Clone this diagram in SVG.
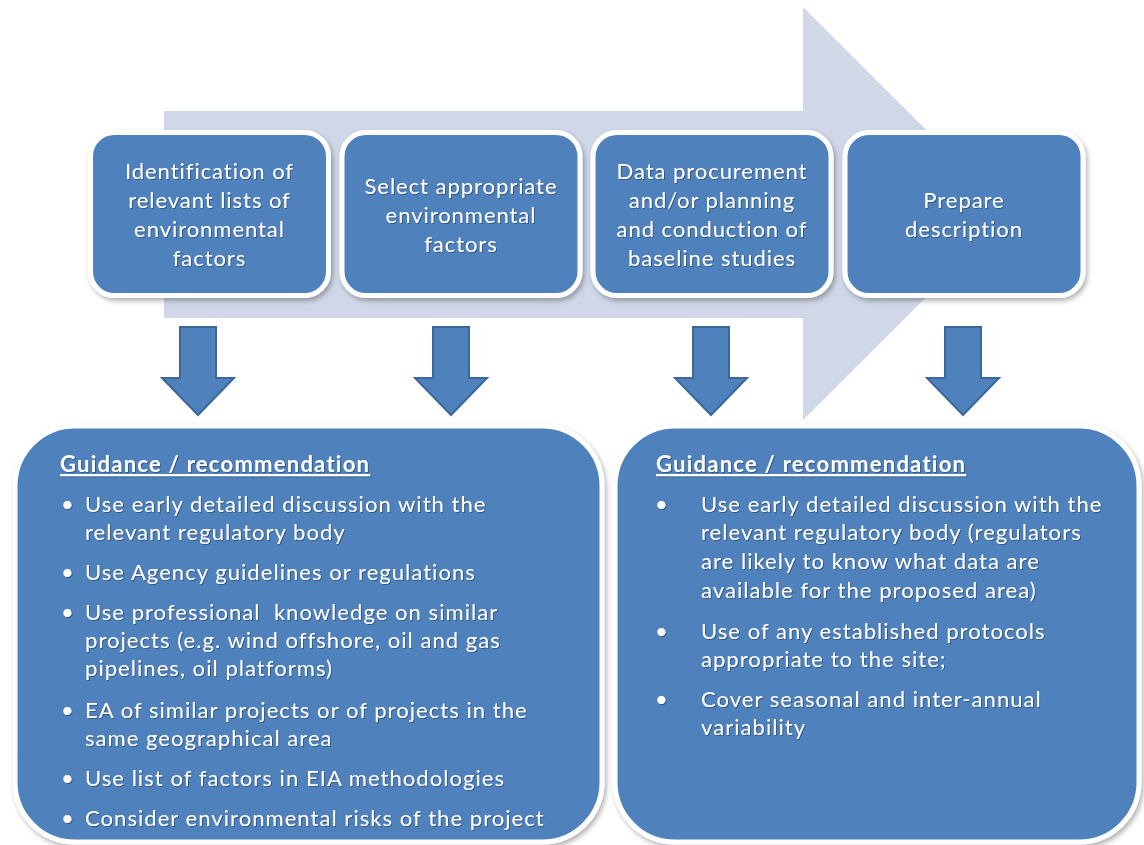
<svg xmlns="http://www.w3.org/2000/svg" width="1144" height="845" viewBox="0 0 1144 845">
<defs>
<filter id="sh" x="-10%" y="-10%" width="120%" height="125%">
<feDropShadow dx="2" dy="3" stdDeviation="2.5" flood-color="#000" flood-opacity="0.3"/>
</filter>
<filter id="ts" x="-5%" y="-20%" width="110%" height="140%">
<feDropShadow dx="1" dy="1" stdDeviation="0.6" flood-color="#1f3a5f" flood-opacity="0.6"/>
</filter>
</defs>
<style>
.box{fill:#4f81bd;stroke:#fff;stroke-width:5}
.dn{fill:#4f81bd;stroke:#3c679a;stroke-width:2;stroke-linejoin:miter}
.t{font-family:Lato,"Liberation Sans",sans-serif;font-size:22px;fill:#fff;letter-spacing:0.95px}
.c{text-anchor:middle}
.b{font-family:Lato,"Liberation Sans",sans-serif;font-size:22px;fill:#fff;letter-spacing:1.05px}
.h{font-weight:bold;text-decoration:underline;letter-spacing:1.25px}
</style>
<rect width="1144" height="845" fill="#fff"/>
<polygon id="process-arrow" points="164,111 803,111 803,7 1010,213.5 803,420 803,318 164,318" fill="#d0d8e8"/>

<g id="step1" filter="url(#sh)">
<rect class="box" x="90.5" y="132.5" width="238" height="163" rx="24"/>
<text class="t c" filter="url(#ts)"><tspan x="209.5" y="179">Identification of</tspan><tspan x="209.5" y="208">relevant lists of</tspan><tspan x="209.5" y="237">environmental</tspan><tspan x="209.5" y="266">factors</tspan></text>
</g>
<g id="step2" filter="url(#sh)">
<rect class="box" x="342" y="132.5" width="238" height="163" rx="24"/>
<text class="t c" filter="url(#ts)"><tspan x="461" y="194">Select appropriate</tspan><tspan x="461" y="223">environmental</tspan><tspan x="461" y="252">factors</tspan></text>
</g>
<g id="step3" filter="url(#sh)">
<rect class="box" x="593" y="132.5" width="238" height="163" rx="24"/>
<text class="t c" filter="url(#ts)"><tspan x="712" y="179">Data procurement</tspan><tspan x="712" y="208">and/or planning</tspan><tspan x="712" y="237">and conduction of</tspan><tspan x="712" y="266">baseline studies</tspan></text>
</g>
<g id="step4" filter="url(#sh)">
<rect class="box" x="845" y="132.5" width="238" height="163" rx="24"/>
<text class="t c" filter="url(#ts)"><tspan x="964" y="208">Prepare</tspan><tspan x="964" y="237">description</tspan></text>
</g>

<g id="connectors">
<polygon class="dn" points="180,327 216,327 216,378 234,378 198,415 162,378 180,378"/>
<polygon class="dn" points="433,327 469,327 469,378 487,378 451,415 415,378 433,378"/>
<polygon class="dn" points="693,327 729,327 729,378 747,378 711,415 675,378 693,378"/>
<polygon class="dn" points="945,327 981,327 981,378 999,378 963,415 927,378 945,378"/>
</g>

<g id="guidance1" filter="url(#sh)">
<rect class="box" x="15" y="426" width="587" height="416" rx="60"/>
<g class="b" filter="url(#ts)">
<text class="b h" x="60" y="472">Guidance / recommendation</text>
<text x="61" y="512">•</text><text x="85" y="512">Use early detailed discussion with the</text>
<text x="85" y="540">relevant regulatory body</text>
<text x="61" y="580">•</text><text x="85" y="580">Use Agency guidelines or regulations</text>
<text x="61" y="620">•</text><text x="85" y="620">Use professional&#160; knowledge on similar</text>
<text x="85" y="648">projects (e.g. wind offshore, oil and gas</text>
<text x="85" y="676">pipelines, oil platforms)</text>
<text x="61" y="718">•</text><text x="85" y="718">EA of similar projects or of projects in the</text>
<text x="85" y="746">same geographical area</text>
<text x="61" y="786">•</text><text x="85" y="786">Use list of factors in EIA methodologies</text>
<text x="61" y="826">•</text><text x="85" y="826">Consider environmental risks of the project</text>
</g>
</g>

<g id="guidance2" filter="url(#sh)">
<rect class="box" x="615" y="426" width="524" height="416" rx="60"/>
<g class="b" filter="url(#ts)">
<text class="b h" x="656" y="472">Guidance / recommendation</text>
<text x="655" y="512">•</text><text x="701" y="512">Use early detailed discussion with the</text>
<text x="701" y="540">relevant regulatory body (regulators</text>
<text x="701" y="569">are likely to know what data are</text>
<text x="701" y="598">available for the proposed area)</text>
<text x="655" y="639">•</text><text x="701" y="639">Use of any established protocols</text>
<text x="701" y="667">appropriate to the site;</text>
<text x="655" y="707">•</text><text x="701" y="707">Cover seasonal and inter-annual</text>
<text x="701" y="735">variability</text>
</g>
</g>
</svg>
